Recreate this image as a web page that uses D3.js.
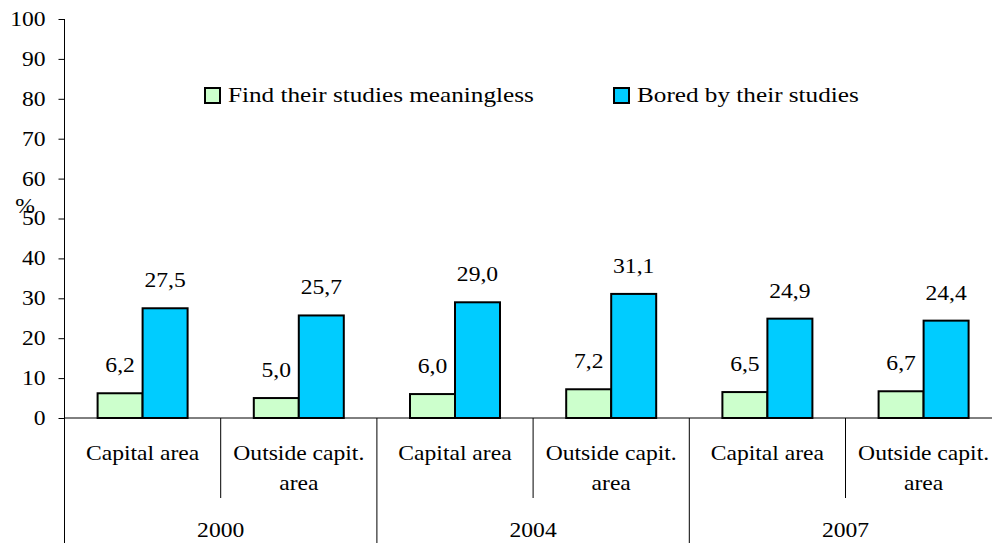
<!DOCTYPE html>
<html>
<head>
<meta charset="utf-8">
<script src="https://cdn.jsdelivr.net/npm/d3@7"></script>
<style>
  body { margin: 0; background: #fff; }
  svg { display: block; font-family: "Liberation Serif", "Times New Roman", serif; }
</style>
</head>
<body>
<div id="chart"></div>
<script>
// data
var years = ["2000", "2004", "2007"];
var regions = ["Capital area", "Outside capit. area"];
var seriesNames = ["Find their studies meaningless", "Bored by their studies"];
var meaningless = [6.2, 5.0, 6.0, 7.2, 6.5, 6.7];
var bored = [27.5, 25.7, 29.0, 31.1, 24.9, 24.4];
var yTicks = [0, 10, 20, 30, 40, 50, 60, 70, 80, 90, 100];

var colors = ["#ccffcc", "#00ccff"];

var width = 992, height = 543;
var plotLeft = 64.5, plotRight = 1001.7, plotTop = 19, plotBottom = 418;
var fontSize = 20, stretch = 1.18;   // serif text in the original is a bit wider

var svg = d3.select("#chart").append("svg")
    .attr("width", width)
    .attr("height", height);

function place(sel, fx, fy, size, sx) {
    sx = sx || stretch;
    sel.attr("transform", function(d, i) {
        return "translate(" + fx(d, i) + "," + fy(d, i) + ") scale(" + sx + ",1)";
    })
    .attr("font-size", size || fontSize);
}

//////// SCALES ////////
var yScale = d3.scaleLinear().domain([0, 100]).range([plotBottom, plotTop]);
var x0Scale = d3.scaleBand().domain(years).range([plotLeft, plotRight]);
var x1Scale = d3.scaleBand().domain(regions).range([0, x0Scale.bandwidth()]);
var x2Scale = d3.scaleBand().domain(seriesNames)
    .range([0, x1Scale.bandwidth()])
    .paddingInner(0)
    .paddingOuter(0.7356);
var fmt = function(v) { return d3.format(".1f")(v).replace(".", ","); };

// rows: one per year/region
var rows = [];
years.forEach(function(y, i) {
    regions.forEach(function(r, j) {
        var k = i * regions.length + j;
        rows.push({ year: y, region: r, values: [meaningless[k], bored[k]] });
    });
});

//////// Y AXIS ////////
var yAxis = svg.append("g")
    .attr("transform", "translate(" + plotLeft + ",0)")
    .call(d3.axisLeft(yScale).tickValues(yTicks).tickSize(6).tickPadding(10).tickFormat(d3.format("d")));
yAxis.select(".domain").attr("d", "M0," + plotTop + "V" + plotBottom).attr("stroke", "#000");
yAxis.selectAll(".tick line").attr("stroke", "#000");
yAxis.selectAll(".tick text")
    .attr("font-size", fontSize)
    .attr("fill", "#000")
    .attr("font-family", "Liberation Serif, serif")
    .attr("transform", "scale(" + stretch + ",1)");

svg.append("text")
    .attr("text-anchor", "middle")
    .call(place, function() { return 25; }, function() { return 213; })
    .text("%");

//////// BARS ////////
var groups = svg.append("g").selectAll("g")
    .data(rows)
    .enter().append("g")
    .attr("transform", function(d) { return "translate(" + (x0Scale(d.year) + x1Scale(d.region)) + ",0)"; });

groups.selectAll("rect")
    .data(function(d) { return d.values.map(function(v, i) { return { name: seriesNames[i], value: v, i: i }; }); })
    .enter().append("rect")
    .attr("x", function(d) { return x2Scale(d.name); })
    .attr("y", function(d) { return yScale(d.value); })
    .attr("width", x2Scale.bandwidth())
    .attr("height", function(d) { return yScale(0) - yScale(d.value); })
    .attr("fill", function(d) { return colors[d.i]; })
    .attr("stroke", "#000")
    .attr("stroke-width", 2);

groups.selectAll("text.val")
    .data(function(d) { return d.values.map(function(v, i) { return { name: seriesNames[i], value: v }; }); })
    .enter().append("text")
    .attr("class", "val")
    .attr("text-anchor", "middle")
    .call(place,
        function(d) { return x2Scale(d.name) + x2Scale.bandwidth() / 2; },
        function(d) { return yScale(d.value) - 21; })
    .text(function(d) { return fmt(d.value); });

//////// X AXIS ////////
svg.append("line")
    .attr("x1", plotLeft).attr("x2", plotRight)
    .attr("y1", plotBottom).attr("y2", plotBottom)
    .attr("stroke", "#000");

// year separators (full height)
var yearEdges = years.map(function(y) { return x0Scale(y); }).concat([plotRight]);
svg.selectAll("line.yr")
    .data(yearEdges)
    .enter().append("line")
    .attr("class", "yr")
    .attr("x1", function(d) { return d; }).attr("x2", function(d) { return d; })
    .attr("y1", plotBottom).attr("y2", height)
    .attr("stroke", "#000");

// region separators
svg.selectAll("line.rg")
    .data(years)
    .enter().append("line")
    .attr("class", "rg")
    .attr("x1", function(d) { return x0Scale(d) + x1Scale(regions[1]); })
    .attr("x2", function(d) { return x0Scale(d) + x1Scale(regions[1]); })
    .attr("y1", plotBottom).attr("y2", 498)
    .attr("stroke", "#000");

// region labels
var regLabels = svg.selectAll("text.rg")
    .data(rows)
    .enter().append("text")
    .attr("class", "rg")
    .attr("text-anchor", "middle")
    .call(place,
        function(d) { return x0Scale(d.year) + x1Scale(d.region) + x1Scale.bandwidth() / 2; },
        function() { return 460; });
regLabels.each(function(d) {
    var lines = d.region === "Outside capit. area" ? ["Outside capit.", "area"] : [d.region];
    d3.select(this).selectAll("tspan")
        .data(lines)
        .enter().append("tspan")
        .attr("x", 0)
        .attr("y", function(l, i) { return i * 30; })
        .text(function(l) { return l; });
});

// year labels
svg.selectAll("text.yr")
    .data(years)
    .enter().append("text")
    .attr("class", "yr")
    .attr("text-anchor", "middle")
    .call(place,
        function(d) { return x0Scale(d) + x0Scale.bandwidth() / 2; },
        function() { return 537; })
    .text(function(d) { return d; });

//////// LEGEND ////////
var legendX = [205, 614];
var legend = svg.selectAll("g.legend")
    .data(seriesNames)
    .enter().append("g")
    .attr("class", "legend")
    .attr("transform", function(d, i) { return "translate(" + legendX[i] + ",88)"; });
legend.append("rect")
    .attr("width", 15).attr("height", 15)
    .attr("fill", function(d, i) { return colors[i]; })
    .attr("stroke", "#000")
    .attr("stroke-width", 2);
legend.append("text")
    .call(place, function() { return 23; }, function() { return 14; }, 21, 1.2)
    .text(function(d) { return d; });
</script>
</body>
</html>
